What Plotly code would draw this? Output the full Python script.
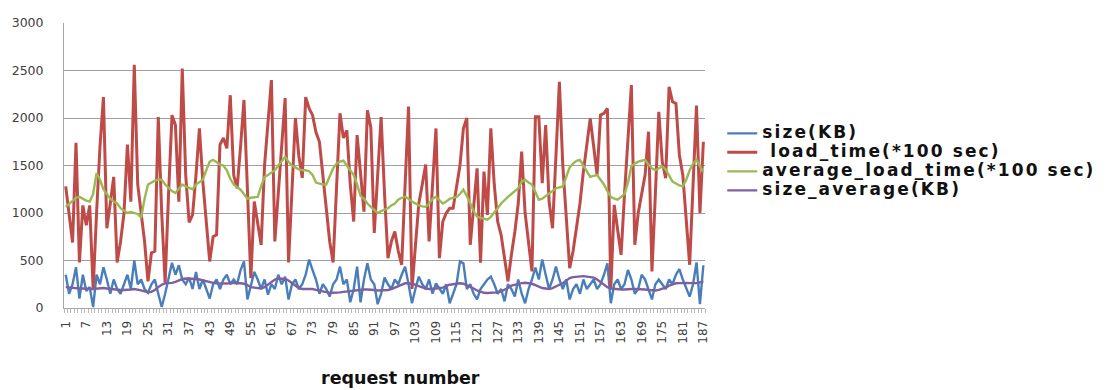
import plotly.graph_objects as go

# request numbers 1..187
requests = list(range(1, 188))

size_kb = [
    350, 150, 250, 430, 100, 350, 180, 220, 10, 350,
    250, 430, 300, 150, 300, 200, 150, 250,
    350, 200, 500, 250, 300, 200, 160, 250, 300, 150,
    10, 150, 300, 475, 350, 450, 300, 250, 320,
    200, 380, 200, 300, 200, 100, 250, 300, 200, 300,
    350, 250, 300, 250, 400, 490, 90, 250, 380,
    300, 200, 300, 140, 250, 200, 350, 250, 330, 90,
    250, 300, 200, 250, 350, 510, 400, 300, 150,
    250, 200, 120, 250, 300, 435, 250, 300, 60, 200,
    435, 60, 300, 470, 300, 250, 40, 150, 320,
    250, 200, 300, 250, 350, 435, 250, 50, 200, 330,
    250, 200, 300, 150, 260, 200, 150, 250, 50, 150,
    250, 490, 470, 200, 250, 150, 90, 200, 250, 300,
    330, 250, 150, 200, 70, 250, 200, 120,
    300, 150, 50, 200, 300, 425, 300, 510, 350, 200,
    300, 435, 300,
    200, 300, 90, 200, 250, 150, 300, 200, 250, 300,
    200, 250, 350, 470, 50, 250, 300, 200, 250, 400,
    300, 150, 200, 350,
    300, 200, 90, 250, 300, 250, 200, 300, 250, 350,
    410, 300, 200, 120, 250, 480, 40, 450,
]

load_time = [
    1280, 1000, 690, 1740, 480, 1080, 870, 1080, 200, 1000,
    1700, 2220, 840, 1100, 1380, 480, 700, 1000, 1720, 1120,
    2560, 1300, 980, 700, 280, 580, 600, 2010, 1000, 270,
    1200, 2030, 1925, 1120, 2520, 1400, 900, 980, 1400, 1890,
    1330, 900, 490, 750, 770, 1720, 1790, 1680, 2240, 1400,
    1260, 1700, 2190, 1250, 315, 1120, 900, 665, 1500, 1950,
    2400, 700, 1200, 1700, 2210, 480, 1200, 2000, 1600, 1370,
    2220, 2100, 2030, 1850, 1750, 1400, 1100, 700, 480, 1200,
    2050, 1790, 1870, 1300, 910, 1820, 1400, 1015, 2080, 1900,
    790, 1400, 2010, 1200, 525, 700, 805, 600, 455, 1300,
    2120, 200, 700, 1100, 1300, 1510, 700, 1300, 1890, 525,
    910, 1000, 1050, 1050, 1300, 1500, 1890, 2000, 665, 1100,
    1470, 476, 1436, 980, 1891, 1300, 910, 770, 500, 280,
    560, 800, 1100, 1646, 1000, 700, 385, 2013, 2013, 1313,
    1926, 1120, 840, 1600, 2381, 1500, 900, 420, 600, 840,
    1100, 1436, 1700, 1996, 1700, 1400, 2031, 2049, 2101, 200,
    1085, 800, 560, 1200, 1800, 2346, 665, 1000, 1200, 1400,
    1856, 385, 1200, 2066, 1541, 1366, 2329, 2171, 2154, 1611,
    1400, 900, 455, 1300, 2130, 1000, 1750,
]

average_load_time = [
    1065, 1100, 1130, 1160, 1170, 1150, 1130, 1120, 1200, 1420,
    1350, 1250, 1200, 1150, 1120, 1100, 1050, 1020,
    1000, 1010, 1000, 990, 950, 1150, 1300, 1320, 1340, 1350,
    1350, 1300, 1260, 1230, 1210, 1250, 1300, 1280, 1265,
    1250, 1300, 1330, 1350, 1450, 1540, 1560, 1530, 1510, 1500,
    1450, 1360, 1300, 1270, 1245, 1200, 1150, 1160, 1165,
    1170, 1280, 1380, 1400, 1430, 1450, 1500, 1550, 1590, 1540,
    1500, 1480, 1460, 1450, 1450, 1440, 1400, 1320, 1310,
    1300, 1300, 1380, 1470, 1520, 1540, 1550, 1500, 1450, 1400,
    1300, 1180, 1150, 1100, 1065, 1030, 1000, 1020, 1035,
    1050, 1080, 1100, 1140, 1160, 1170, 1150, 1120, 1100, 1080,
    1070, 1065, 1100, 1150, 1170, 1140, 1100, 1120, 1150, 1160,
    1170, 1200, 1245, 1180, 1100, 1020, 960, 950, 940, 930,
    960, 1000, 1050, 1100, 1140, 1170, 1200, 1230,
    1260, 1330, 1350, 1320, 1300, 1220, 1140, 1150, 1180, 1200,
    1230, 1260, 1270,
    1280, 1380, 1480, 1520, 1550, 1560, 1500, 1440, 1380, 1390,
    1400, 1350, 1300, 1230, 1170, 1150, 1140, 1170, 1200, 1320,
    1490, 1520, 1540, 1550,
    1560, 1510, 1470, 1450, 1470, 1490, 1460, 1400, 1330, 1310,
    1290, 1280, 1350, 1450, 1520, 1560, 1500, 1430,
]

size_average = [
    220, 215, 210, 210, 205, 205, 200, 200, 200, 205,
    210, 210, 205, 200, 195, 190, 190, 190,
    190, 195, 200, 195, 185, 175, 165, 170, 190, 220,
    245, 260, 260, 265, 275, 290, 305, 310, 310,
    310, 305, 300, 290, 280, 270, 265, 260, 258, 255,
    258, 262, 265, 262, 260, 255, 240, 220, 215,
    210, 205, 220, 250, 280, 300, 310, 310, 305, 290,
    260, 230, 210, 200, 200, 205, 200, 190, 182,
    175, 165, 160, 160, 160, 165, 170, 175, 180, 185,
    190, 195, 195, 195, 195, 190, 185, 185, 188,
    190, 200, 215, 235, 250, 260, 260, 255, 245, 230,
    215, 205, 200, 200, 205, 210, 215, 230, 245, 250,
    255, 260, 255, 240, 225, 205, 185, 170, 160, 158,
    158, 160, 165, 175, 190, 210, 235, 245,
    255, 262, 265, 262, 255, 240, 225, 210, 205, 200,
    210, 230, 245,
    260, 290, 315, 325, 330, 335, 335, 330, 325, 320,
    300, 270, 240, 220, 205, 200, 195, 195, 195, 200,
    200, 200, 200, 198,
    195, 190, 185, 185, 190, 200, 215, 235, 250, 260,
    262, 265, 265, 262, 260, 262, 270, 280,
]

for column in (size_kb, load_time, average_load_time, size_average):
    assert len(column) == len(requests), len(column)

tick_vals = list(range(1, 188, 6))
tick_labels = [str(v) for v in tick_vals]


def legend_label(text):
    # wide bold legend lettering
    return ('<span style="font-size:17px;letter-spacing:2.1px">'
            + text + '</span>')


series = [
    ("size(KB)", size_kb, "#4A7EBB", 2.4),
    (" load_time(*100 sec)", load_time, "#BE4B48", 3.0),
    ("average_load_time(*100 sec)", average_load_time, "#98B954", 2.4),
    ("size_average(KB)", size_average, "#7D60A0", 2.4),
]

fig = go.Figure()
for name, values, color, width in series:
    fig.add_trace(go.Scatter(
        x=requests, y=values, name=legend_label(name), mode="lines",
        line=dict(color=color, width=width),
    ))

fig.update_layout(
    width=1112, height=390,
    margin=dict(l=62, r=400, t=23, b=82),
    paper_bgcolor="white", plot_bgcolor="white",
    font=dict(family="DejaVu Sans", color="#404040"),
    showlegend=True,
    legend=dict(
        xref="container", yref="container",
        x=0.6495, y=0.585, xanchor="left", yanchor="middle",
        font=dict(family="DejaVu Sans", size=12, color="#111111",
                  weight="bold"),
        bgcolor="rgba(0,0,0,0)", tracegroupgap=0, itemwidth=30,
    ),
    annotations=[dict(
        text="request number",
        x=0.525, y=-0.245,
        xref="paper", yref="paper", showarrow=False,
        xanchor="center", yanchor="middle",
        font=dict(family="DejaVu Sans", size=17.5, color="#111111",
                  weight="bold"),
    )],
)

fig.update_xaxes(
    range=[0.5, 187.5],
    tickmode="array", tickvals=tick_vals, ticktext=tick_labels,
    tickangle=-90, tickfont=dict(size=12, color="#404040"),
    showgrid=False, zeroline=False,
    showline=True, linecolor="#a6a6a6", linewidth=1,
    ticks="outside", ticklen=7, tickcolor="rgba(0,0,0,0)",
    minor=dict(tickmode="linear", tick0=0.5, dtick=1, ticks="outside",
               ticklen=4, tickcolor="#b8b8b8", tickwidth=1),
)
fig.update_yaxes(
    range=[0, 3000], tickmode="linear", tick0=0, dtick=500,
    tickfont=dict(size=12.5, color="#404040"),
    showgrid=True, gridcolor="#a0a0a0", gridwidth=1.4,
    zeroline=False, showline=True, linecolor="#a6a6a6", linewidth=1,
    ticks="outside", ticklen=17, tickcolor="rgba(0,0,0,0)",
)

fig.write_html("out.html")
